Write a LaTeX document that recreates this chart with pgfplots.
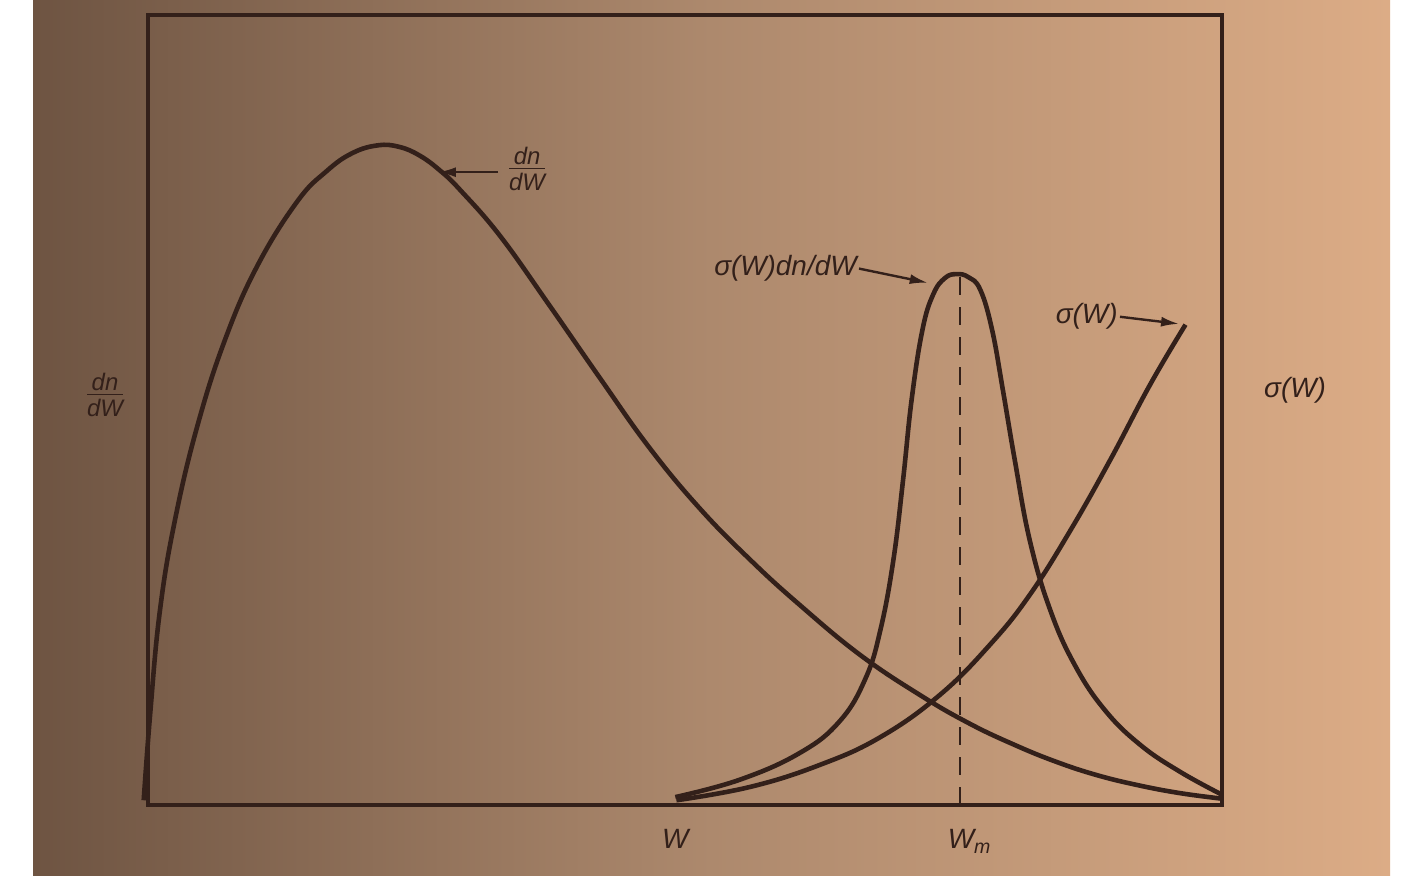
\documentclass[border=0pt]{standalone}
\usepackage{pgfplots}
\pgfplotsset{compat=1.18}
\usetikzlibrary{arrows.meta}
\usepackage{fontspec}
\setmainfont{Liberation Sans}
\definecolor{ink}{HTML}{33201A}
\definecolor{paperL}{HTML}{6E5442}
\definecolor{paperM}{HTML}{AD896D}
\definecolor{paperR}{HTML}{DCAC86}
\newcommand{\fr}{\begin{tabular}{@{}c@{}}dn\\[-2pt]\hline\rule{0pt}{11pt}dW\end{tabular}}
\begin{document}
\begin{tikzpicture}
\path[use as bounding box, fill=white] (0,0) rectangle (710bp,438bp);
\shade[left color=paperL, right color=paperR, middle color=paperM] (16.5bp,0) rectangle (695bp,438bp);
\begin{axis}[
  at={(74bp,35.5bp)}, anchor=south west,
  scale only axis, width=537bp, height=395bp,
  xmin=0, xmax=100, ymin=0, ymax=100,
  axis line style={ink, line width=1.7bp},
  ticks=none,
  clip=false,
  font=\fontsize{14}{16}\selectfont\itshape,
]
% dn/dW
\addplot[ink, line width=2.3bp, smooth, tension=0.7] coordinates {
(-0.4,0.6) (0.2,11.5) (1.1,24.5) (2.5,36.0) (4.6,48.0) (7.2,59.0) (10.2,68.3)
(13.9,76.4) (16.6,80.2) (19.0,82.5) (21.4,83.5) (23.4,83.3) (25.3,82.2) (27.2,80.3)
(29.1,77.8) (32.8,72.0)
(37.4,63.2) (42.1,54.0) (46.7,45.2) (51.4,37.5) (56.1,31.0) (60.7,25.3)
(66.3,19.0) (71.9,13.9) (76.5,10.3) (80.7,7.6) (84.5,5.5) (88.3,3.8) (92.2,2.5) (96.1,1.5) (100,0.8)
};
% sigma(W)
\addplot[ink, line width=2.3bp, smooth, tension=0.7] coordinates {
(49.2,0.6) (56.1,2.3) (62.6,5.1) (68.2,8.6) (73.7,13.9) (78.4,20.3)
(82.1,26.6) (85.9,34.8) (89.6,43.7) (93.3,53.2) (96.6,60.8)
};
% sigma(W) dn/dW
\addplot[ink, line width=2.3bp, smooth, tension=0.7] coordinates {
(49.1,1.0) (55.1,3.2) (60.7,6.6) (64.4,10.6) (66.8,16.0) (68.2,22.2)
(69.4,31.0) (70.3,41.1) (71.1,51.3) (72.1,60.1) (73.1,64.6) (74.2,66.7)
(75.3,67.2) (76.4,66.8) (77.5,65.2) (78.6,60.1) (79.6,52.5) (80.7,43.7)
(82.1,33.5) (84.0,24.7) (86.3,17.7) (89.1,12.0) (92.4,7.6) (96.1,4.2) (100,1.3)
};
% dashed line at W_m
\addplot[ink, line width=1.2bp, dash pattern=on 9bp off 6bp] coordinates {(75.6,0) (75.6,66.8)};
% annotations
\node[ink, font=\fontsize{12}{13}\selectfont\itshape] at (axis cs:35.3,80.1) {\fr};
\draw[ink, line width=1.2bp, -{Latex[length=9bp,width=5bp]}] (axis cs:32.6,80.1) -- (axis cs:27.0,80.1);
\node[ink, anchor=east, inner sep=1pt] at (axis cs:66.2,67.9) {σ(W)dn/dW};
\draw[ink, line width=1.2bp, -{Latex[length=9bp,width=5bp]}] (axis cs:66.2,67.9) -- (axis cs:72.6,66.1);
\node[ink, anchor=east, inner sep=1pt] at (axis cs:90.5,61.8) {σ(W)};
\draw[ink, line width=1.2bp, -{Latex[length=9bp,width=5bp]}] (axis cs:90.5,61.8) -- (axis cs:96.0,60.9);
\node[ink, font=\fontsize{12}{13}\selectfont\itshape] at (axis cs:-4.0,51.5) {\fr};
\node[ink] at (axis cs:106.8,52.5) {σ(W)};
\node[ink] at (axis cs:49.1,-4.3) {W};
\node[ink] at (axis cs:76.5,-4.6) {W\textsubscript{m}};
\end{axis}
\end{tikzpicture}
\end{document}
